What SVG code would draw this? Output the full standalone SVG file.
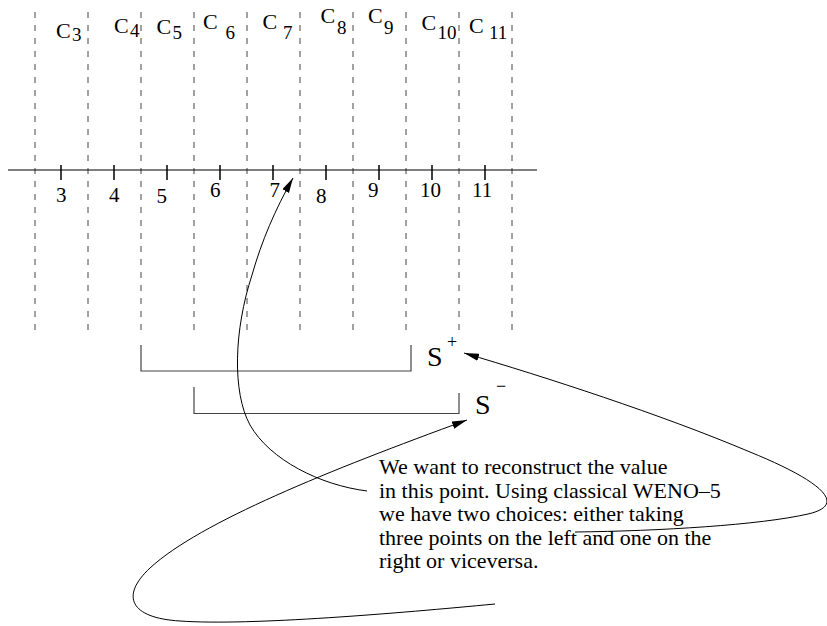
<svg xmlns="http://www.w3.org/2000/svg" width="827" height="626" viewBox="0 0 827 626">
<style>
  text { font-family: "Liberation Serif", "Times New Roman", serif; fill: #000; }
  .c { font-size: 22px; }
  .sub { font-size: 19px; }
  .num { font-size: 21px; }
  .body { font-size: 22px; }
  .s { font-size: 28px; }
  .sup { font-size: 18px; }
  .dash { stroke: #444; stroke-width: 1; stroke-dasharray: 6 7; fill: none; }
  .axis { stroke: #000; stroke-width: 1.2; fill: none; }
  .tick { stroke: #000; stroke-width: 1.5; }
  .bracket { stroke: #444; stroke-width: 1.2; fill: none; }
  .conn { stroke: #000; stroke-width: 1; fill: none; marker-end: url(#arrow); }
</style>
<defs>
  <marker id="arrow" markerUnits="userSpaceOnUse" markerWidth="16" markerHeight="8" refX="15" refY="3.75" orient="auto" viewBox="0 0 16 8">
    <path d="M0,0 L15,3.75 L0,7.5 z" fill="#000"/>
  </marker>
</defs>
<rect x="0" y="0" width="827" height="626" fill="#fff"/>

<g id="grid">
  <line class="dash" x1="35" y1="12" x2="35" y2="330"/>
  <line class="dash" x1="88" y1="12" x2="88" y2="330"/>
  <line class="dash" x1="141" y1="12" x2="141" y2="330"/>
  <line class="dash" x1="194" y1="12" x2="194" y2="330"/>
  <line class="dash" x1="247" y1="12" x2="247" y2="330"/>
  <line class="dash" x1="300" y1="12" x2="300" y2="330"/>
  <line class="dash" x1="353" y1="12" x2="353" y2="330"/>
  <line class="dash" x1="406" y1="12" x2="406" y2="330"/>
  <line class="dash" x1="459" y1="12" x2="459" y2="330"/>
  <line class="dash" x1="512" y1="12" x2="512" y2="330"/>
</g>

<g id="axis">
  <line class="axis" x1="8" y1="170" x2="537" y2="170"/>
  <line class="tick" x1="61" y1="165" x2="61" y2="180"/>
  <line class="tick" x1="114" y1="165" x2="114" y2="180"/>
  <line class="tick" x1="167" y1="165" x2="167" y2="180"/>
  <line class="tick" x1="220" y1="165" x2="220" y2="180"/>
  <line class="tick" x1="273" y1="165" x2="273" y2="180"/>
  <line class="tick" x1="326" y1="165" x2="326" y2="180"/>
  <line class="tick" x1="379" y1="165" x2="379" y2="180"/>
  <line class="tick" x1="432" y1="165" x2="432" y2="180"/>
  <line class="tick" x1="485" y1="165" x2="485" y2="180"/>
</g>

<g id="axis-numbers">
  <text class="num" x="56" y="202">3</text>
  <text class="num" x="109" y="202">4</text>
  <text class="num" x="156.5" y="203">5</text>
  <text class="num" x="210" y="197">6</text>
  <text class="num" x="269.5" y="197">7</text>
  <text class="num" x="316" y="203">8</text>
  <text class="num" x="368" y="197">9</text>
  <text class="num" x="420" y="197">10</text>
  <text class="num" x="472" y="197">11</text>
</g>

<g id="cell-labels">
  <text class="c" x="56" y="38">C<tspan class="sub" x="72" y="41">3</tspan></text>
  <text class="c" x="114" y="32.5">C<tspan class="sub" x="130" y="37">4</tspan></text>
  <text class="c" x="156.5" y="34">C<tspan class="sub" x="172.5" y="38.5">5</tspan></text>
  <text class="c" x="203" y="28.5">C<tspan class="sub" x="225.5" y="39">6</tspan></text>
  <text class="c" x="262.5" y="28.5">C<tspan class="sub" x="283" y="38.5">7</tspan></text>
  <text class="c" x="320.5" y="22.5">C<tspan class="sub" x="337" y="33.5">8</tspan></text>
  <text class="c" x="368" y="22.5">C<tspan class="sub" x="384" y="33.5">9</tspan></text>
  <text class="c" x="421.5" y="30">C<tspan class="sub" x="437.5" y="38.5">10</tspan></text>
  <text class="c" x="469" y="32.5">C<tspan class="sub" x="489" y="39">11</tspan></text>
</g>

<g id="stencil-plus">
  <path class="bracket" d="M141,345 V371 H411 V345"/>
  <text class="s" x="427" y="366">S</text>
  <text class="sup" x="447" y="348">+</text>
</g>

<g id="stencil-minus">
  <path class="bracket" d="M194,387 V413.5 H459 V393"/>
  <text class="s" x="475" y="414">S</text>
  <text class="sup" x="496" y="392">−</text>
</g>

<g id="note">
  <text class="body" x="379" y="474">We want to reconstruct the value</text>
  <text class="body" x="379" y="497.5">in this point. Using classical WENO–5</text>
  <text class="body" x="379" y="521">we have two choices: either taking</text>
  <text class="body" x="379" y="544.5">three points on the left and one on the</text>
  <text class="body" x="379" y="568">right or viceversa.</text>
</g>

<g id="connectors">
  <path class="conn" d="M367,491 C320,485 270,460 250,425 C232,392 234,330 252,275 C262,240 275,210 293,178"/>
  <path class="conn" d="M495,604 C400,613 250,626 180,621 C130,618 120,596 150,568 C200,522 330,470 467,420"/>
  <path class="conn" d="M575,532 C660,531 760,525 808,514 C852,504 814,478 750,452 C660,414 545,377 464,353"/>
</g>
</svg>
